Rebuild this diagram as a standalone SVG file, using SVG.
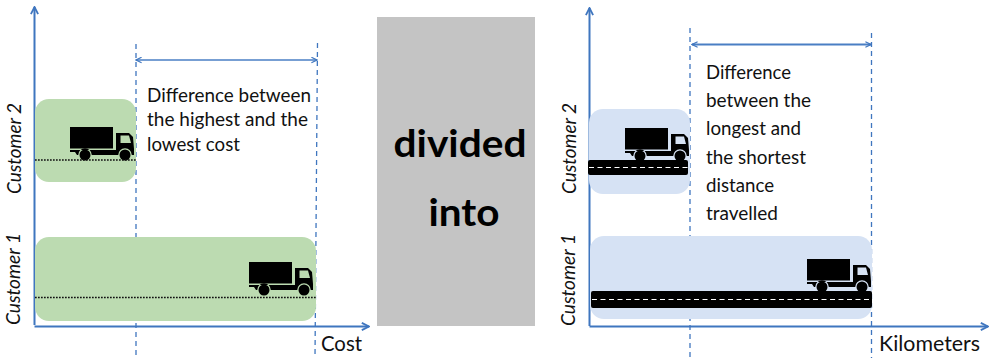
<svg xmlns="http://www.w3.org/2000/svg" width="990" height="358" viewBox="0 0 990 358">
<style>
text{font-family:"Lato","Liberation Sans",sans-serif;fill:#111}
.lab{font-size:18.500px}
.big{font-size:38px;font-weight:700;text-anchor:middle;fill:#000}
.axis-title{font-size:21px}
.axis-label{font-size:19.500px;font-style:italic}
.ax{fill:none;stroke:#3f76bf;stroke-width:2}
.dash{fill:none;stroke:#3f76bf;stroke-width:1.300;stroke-dasharray:5 4}
.dim{fill:none;stroke:#4a7fc4;stroke-width:1.300;marker-start:url(#ah);marker-end:url(#ah)}
.dim2{stroke-width:1.800}
.dot{fill:none;stroke:#111;stroke-width:1.700;stroke-dasharray:1.700 1.300}
.road{fill:#000}
.mid{fill:none;stroke:#fff;stroke-width:1.200;stroke-dasharray:5 3.500}
</style>
<defs>
<marker id="ah" viewBox="0 0 10 10" refX="9" refY="5" markerWidth="7" markerHeight="7" markerUnits="userSpaceOnUse" orient="auto-start-reverse"><path d="M1 1L9 5L1 9" fill="none" stroke="#3f76bf" stroke-width="1.600"/></marker>
<marker id="ax" viewBox="0 0 10 10" refX="9" refY="5" markerWidth="9" markerHeight="9" markerUnits="userSpaceOnUse" orient="auto"><path d="M1 1L9 5L1 9" fill="none" stroke="#3f76bf" stroke-width="2"/></marker>
<g id="truck-shape">
<path d="M0 0H43V21.500H0Z"/>
<path fill-rule="evenodd" d="M46 6H59L63 10L64 22V28H61.800A6.800 6.800 0 0 0 48.200 28H21.800A6.800 6.800 0 0 0 8.200 28H7L5 25H0V23H46ZM50.500 8.500V16H61L59 8.500Z"/>
<circle cx="15" cy="28" r="5.500"/>
<circle cx="55" cy="28" r="5.500"/>
</g>
</defs>

<g id="connectors">
<path class="ax" d="M34.500 325V7" marker-end="url(#ax)"/>
<path class="ax" d="M34.500 326.500H369" marker-end="url(#ax)"/>
<path class="ax" d="M589.500 326V8" marker-end="url(#ax)"/>
<path class="ax" d="M589.500 326.500H988" marker-end="url(#ax)"/>
<path class="dash" d="M136 44V358"/>
<path class="dash" d="M317.500 43L315 358"/>
<path class="dim" d="M136 60H317"/>
<path class="dash" d="M690 28V358"/>
<path class="dash" d="M871.500 33V358"/>
<path class="dim dim2" d="M692 44.500H871"/>
</g>

<g id="node-customer2-cost">
<rect x="35" y="99" width="101" height="83" rx="14" fill="#bcdbb1"/>
<use href="#truck-shape" x="70" y="127"/>
<path class="dot" d="M35 160H136"/>
</g>
<g id="node-customer1-cost">
<rect x="35" y="237" width="281" height="84" rx="14" fill="#bcdbb1"/>
<use href="#truck-shape" x="249" y="262"/>
<path class="dot" d="M35 297.500H316"/>
</g>
<g id="node-customer2-km">
<rect x="589" y="109" width="101" height="85" rx="14" fill="#d6e2f4"/>
<use href="#truck-shape" x="625" y="128"/>
<rect class="road" x="588" y="160" width="100" height="15" rx="2"/>
<path class="mid" d="M589 167.500H688"/>
</g>
<g id="node-customer1-km">
<rect x="590" y="236" width="282" height="83" rx="14" fill="#d6e2f4"/>
<use href="#truck-shape" x="807" y="259"/>
<rect class="road" x="591" y="291" width="281" height="17" rx="2"/>
<path class="mid" d="M592 299.500H871"/>
</g>

<g id="node-divided">
<rect x="377" y="17" width="158" height="309" fill="#c4c4c4"/>
<text class="big" x="460" y="157" textLength="133" lengthAdjust="spacingAndGlyphs">divided</text>
<text class="big" x="464" y="226" textLength="71" lengthAdjust="spacingAndGlyphs">into</text>
</g>

<g id="labels">
<text class="lab" x="147" y="102" textLength="164" lengthAdjust="spacingAndGlyphs">Difference between</text>
<text class="lab" x="147" y="126" textLength="161" lengthAdjust="spacingAndGlyphs">the highest and the</text>
<text class="lab" x="147" y="151" textLength="93" lengthAdjust="spacingAndGlyphs">lowest cost</text>
<text class="lab" x="706" y="79" textLength="85" lengthAdjust="spacingAndGlyphs">Difference</text>
<text class="lab" x="706" y="107" textLength="105" lengthAdjust="spacingAndGlyphs">between the</text>
<text class="lab" x="706" y="135" textLength="95" lengthAdjust="spacingAndGlyphs">longest and</text>
<text class="lab" x="706" y="164" textLength="100" lengthAdjust="spacingAndGlyphs">the shortest</text>
<text class="lab" x="706" y="192" textLength="68" lengthAdjust="spacingAndGlyphs">distance</text>
<text class="lab" x="706" y="220" textLength="72" lengthAdjust="spacingAndGlyphs">travelled</text>
<text class="axis-title" x="321" y="351" textLength="41" lengthAdjust="spacingAndGlyphs">Cost</text>
<text class="axis-title" x="879" y="351" textLength="101" lengthAdjust="spacingAndGlyphs">Kilometers</text>
<text class="axis-label" transform="translate(21 194) rotate(-90)" textLength="91" lengthAdjust="spacingAndGlyphs">Customer 2</text>
<text class="axis-label" transform="translate(20 325) rotate(-90)" textLength="92" lengthAdjust="spacingAndGlyphs">Customer 1</text>
<text class="axis-label" transform="translate(576 194) rotate(-90)" textLength="91" lengthAdjust="spacingAndGlyphs">Customer 2</text>
<text class="axis-label" transform="translate(575 326) rotate(-90)" textLength="92" lengthAdjust="spacingAndGlyphs">Customer 1</text>
</g>
</svg>
